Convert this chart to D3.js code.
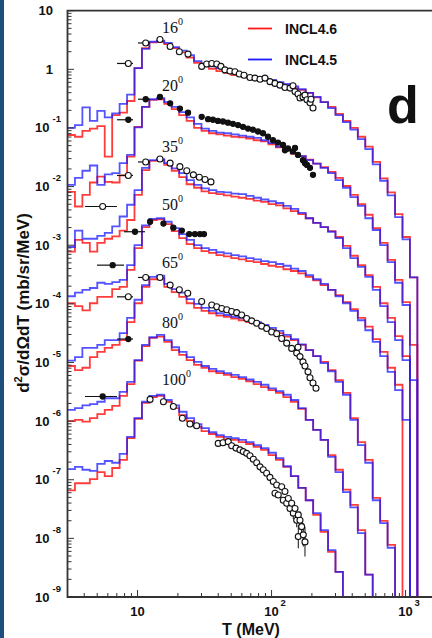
<!doctype html>
<html>
<head>
<script src="https://cdnjs.cloudflare.com/ajax/libs/d3/7.8.5/d3.min.js"></script>
<style>
  body { margin: 0; background: #ffffff; }
  text { font-family: "Liberation Sans", Arial, sans-serif; font-weight: bold; fill: #111; }
  .angle { font-family: "Liberation Serif", "Times New Roman", serif; font-weight: normal; font-size: 16px; }
  .frame { fill: none; stroke: #333; stroke-width: 1.8px; }
  .tick { stroke: #333; stroke-width: 1px; }
</style>
</head>
<body>
<div id="viz"><svg width="432" height="638"></svg></div>
<script>
// histogram binning: 18 log bins per decade starting at 3 MeV
var tMin = 3, binsPerDecade = 18;

var angles = ["16", "20", "35", "50", "65", "80", "100"];

// log10 of d2sigma/dOmega dT per bin (spectra already shifted by decades)
var incl46_16 = [-1.12,-1.15,-1.05,-1.01,-0.97,-1.49,-0.78,-0.74,-0.54,0.02,0.36,0.46,0.47,0.43,0.36,0.29,0.20,0.11,0.05,0.01,-0.03,-0.06,-0.10,-0.11,-0.14,-0.16,-0.19,-0.22,-0.24,-0.28,-0.32,-0.35,-0.40,-0.48,-0.56,-0.64,-0.76,-0.88,-1.00,-1.15,-1.32,-1.58,-1.86,-2.10,-2.47,-2.86,-3.55];
var incl45_16 = [-1.00,-0.95,-0.65,-0.88,-0.71,-0.82,-0.75,-0.59,-0.43,0.02,0.35,0.47,0.49,0.45,0.38,0.32,0.24,0.14,0.08,0.05,0.02,-0.02,-0.05,-0.08,-0.11,-0.13,-0.16,-0.18,-0.22,-0.25,-0.29,-0.34,-0.40,-0.47,-0.56,-0.66,-0.78,-0.90,-1.03,-1.19,-1.36,-1.62,-1.90,-2.15,-2.52,-2.90,-3.55];

var incl46_20 = [-2.09,-2.34,-2.14,-1.93,-1.83,-1.92,-1.93,-1.81,-1.49,-0.98,-0.64,-0.52,-0.51,-0.59,-0.68,-0.78,-0.88,-1.00,-1.05,-1.09,-1.11,-1.13,-1.15,-1.16,-1.18,-1.21,-1.23,-1.28,-1.33,-1.38,-1.44,-1.48,-1.54,-1.61,-1.67,-1.75,-1.85,-1.99,-2.14,-2.30,-2.48,-2.71,-2.96,-3.25,-3.59,-3.97,-4.70];
var incl45_20 = [-1.97,-1.85,-1.73,-1.64,-1.97,-1.79,-1.77,-1.60,-1.46,-0.99,-0.64,-0.51,-0.49,-0.56,-0.64,-0.73,-0.82,-0.93,-1.01,-1.05,-1.08,-1.09,-1.11,-1.13,-1.15,-1.17,-1.21,-1.26,-1.32,-1.38,-1.43,-1.48,-1.55,-1.61,-1.68,-1.77,-1.89,-2.02,-2.18,-2.33,-2.54,-2.74,-3.00,-3.29,-3.64,-4.02,-5.30];

var incl46_35 = [-3.11,-2.91,-2.96,-3.11,-2.96,-2.89,-2.85,-2.75,-2.57,-2.14,-1.72,-1.56,-1.55,-1.63,-1.73,-1.84,-1.96,-2.02,-2.08,-2.11,-2.13,-2.15,-2.17,-2.19,-2.21,-2.24,-2.26,-2.30,-2.32,-2.37,-2.42,-2.47,-2.54,-2.62,-2.69,-2.76,-2.86,-3.01,-3.18,-3.34,-3.51,-3.71,-3.99,-4.24,-4.55,-4.89];
var incl45_35 = [-3.03,-2.75,-2.89,-2.89,-2.84,-2.79,-2.68,-2.51,-2.31,-2.06,-1.68,-1.55,-1.53,-1.60,-1.69,-1.77,-1.89,-1.97,-2.03,-2.06,-2.09,-2.10,-2.12,-2.13,-2.16,-2.19,-2.22,-2.25,-2.28,-2.33,-2.38,-2.45,-2.54,-2.62,-2.69,-2.77,-2.88,-3.05,-3.22,-3.37,-3.54,-3.76,-4.04,-4.31,-4.62,-4.96];

var incl46_50 = [-3.99,-4.04,-4.11,-3.99,-3.88,-3.88,-3.75,-3.71,-3.42,-3.05,-2.69,-2.57,-2.56,-2.64,-2.76,-2.88,-2.98,-3.05,-3.10,-3.13,-3.17,-3.19,-3.22,-3.24,-3.27,-3.29,-3.32,-3.35,-3.37,-3.41,-3.44,-3.48,-3.54,-3.60,-3.68,-3.76,-3.85,-3.97,-4.09,-4.24,-4.39,-4.60,-4.82,-5.09,-5.38];
var incl45_50 = [-3.87,-3.81,-3.76,-3.73,-3.64,-3.66,-3.63,-3.59,-3.34,-3.00,-2.66,-2.55,-2.54,-2.60,-2.71,-2.81,-2.91,-3.00,-3.05,-3.08,-3.12,-3.14,-3.17,-3.19,-3.22,-3.24,-3.27,-3.29,-3.32,-3.35,-3.40,-3.44,-3.51,-3.58,-3.66,-3.76,-3.87,-3.99,-4.12,-4.28,-4.45,-4.65,-4.89,-5.16,-5.47,-5.98];

var incl46_65 = [-5.06,-5.13,-5.09,-4.91,-4.82,-4.75,-4.70,-4.62,-4.31,-3.99,-3.71,-3.58,-3.56,-3.71,-3.80,-3.88,-3.99,-4.07,-4.12,-4.16,-4.20,-4.22,-4.25,-4.28,-4.31,-4.34,-4.39,-4.45,-4.50,-4.56,-4.62,-4.70,-4.79,-4.89,-4.99,-5.13,-5.30,-5.52,-5.95,-6.36,-6.66,-7.31,-7.70,-8.11];
var incl45_65 = [-4.97,-4.91,-4.75,-4.75,-4.70,-4.62,-4.62,-4.50,-4.24,-3.93,-3.68,-3.54,-3.52,-3.66,-3.75,-3.81,-3.92,-4.00,-4.07,-4.12,-4.16,-4.19,-4.22,-4.24,-4.28,-4.31,-4.36,-4.41,-4.46,-4.53,-4.60,-4.69,-4.79,-4.89,-5.01,-5.15,-5.33,-5.55,-5.98,-6.41,-6.71,-7.35,-7.74,-8.16];

var incl46_80 = [-6.00,-5.98,-6.01,-5.95,-5.88,-5.81,-5.74,-5.57,-5.37,-4.97,-4.72,-4.58,-4.56,-4.65,-4.79,-4.87,-4.96,-5.04,-5.09,-5.15,-5.18,-5.21,-5.25,-5.28,-5.32,-5.37,-5.42,-5.47,-5.52,-5.59,-5.67,-5.79,-5.98,-6.15,-6.32,-6.58,-6.83,-7.17,-7.43,-7.86,-8.62];
var incl45_80 = [-5.81,-5.78,-5.73,-5.71,-5.67,-5.61,-5.61,-5.50,-5.33,-4.96,-4.70,-4.57,-4.53,-4.62,-4.74,-4.82,-4.91,-4.99,-5.06,-5.11,-5.15,-5.18,-5.21,-5.25,-5.29,-5.33,-5.38,-5.44,-5.49,-5.55,-5.64,-5.78,-5.98,-6.15,-6.32,-6.61,-6.87,-7.21,-7.47,-7.91,-8.62];

var incl46_100 = [-7.18,-7.06,-7.06,-6.99,-6.87,-6.94,-6.80,-6.66,-6.29,-5.96,-5.69,-5.59,-5.57,-5.67,-5.78,-5.90,-6.00,-6.10,-6.17,-6.22,-6.27,-6.31,-6.32,-6.36,-6.39,-6.44,-6.49,-6.58,-6.66,-6.78,-6.94,-7.14,-7.35,-7.60,-7.89,-8.23,-8.57];
var incl45_100 = [-6.82,-6.78,-6.83,-6.85,-6.73,-6.68,-6.71,-6.56,-6.27,-5.95,-5.67,-5.57,-5.55,-5.64,-5.73,-5.84,-5.95,-6.05,-6.12,-6.19,-6.24,-6.27,-6.29,-6.32,-6.36,-6.41,-6.46,-6.54,-6.63,-6.77,-6.94,-7.14,-7.35,-7.57,-7.86,-8.20,-8.57];

// measured points: [T (MeV), log10 value, optional log10 error]
var data16 = [[14.7,0.51],[17.5,0.39],[20.5,0.30],[23.8,0.26],[30.1,0.05],[32.8,0.09],[35.8,0.10],[39.0,0.09],[41.9,0.05],[44.9,-0.01],[48.9,-0.03],[53.3,-0.04],[57.4,-0.08],[62.3,-0.10],[69.0,-0.14],[75.2,-0.15],[82.0,-0.17],[89.3,-0.15],[97.3,-0.21],[106.1,-0.24],[115.6,-0.27],[125.9,-0.31],[137.3,-0.32],[144.5,-0.28],[149.6,-0.38],[157.5,-0.42],[163.0,-0.49],[171.6,-0.47],[177.6,-0.44],[183.8,-0.52],[193.6,-0.57],[197.0,-0.51],[203.8,-0.66]];
var data20 = [[14.7,-0.47],[17.5,-0.58],[20.7,-0.67],[23.8,-0.74],[30.1,-0.81],[33.6,-0.85],[36.5,-0.86],[39.8,-0.88],[43.4,-0.89],[47.3,-0.91],[51.5,-0.93],[56.2,-0.95],[61.2,-0.98],[66.7,-1.01],[72.7,-1.03],[79.2,-1.06],[86.3,-1.09],[94.0,-1.15],[102.5,-1.21],[111.7,-1.25],[121.7,-1.29],[125.9,-1.38],[132.6,-1.35],[144.5,-1.40],[149.6,-1.34],[157.5,-1.46],[171.6,-1.55],[177.6,-1.60],[183.8,-1.63],[193.6,-1.68],[203.8,-1.80]];
var data35 = [[14.7,-1.53],[17.5,-1.60],[20.7,-1.66],[23.3,-1.73],[26.1,-1.80],[28.9,-1.84],[31.9,-1.88],[35.3,-1.92]];
var data50 = [[12.4,-2.60],[15.6,-2.63],[18.5,-2.70],[21.4,-2.75],[24.3,-2.81],[26.8,-2.81],[29.2,-2.81],[31.3,-2.81]];
var data65 = [[14.7,-3.55],[17.5,-3.68],[20.5,-3.76],[23.7,-3.82],[30.1,-3.96],[35.8,-4.02],[39.0,-4.05],[42.5,-4.08],[46.3,-4.10],[50.4,-4.13],[54.9,-4.15],[59.8,-4.19],[65.2,-4.25],[71.1,-4.29],[77.5,-4.33],[84.4,-4.38],[91.9,-4.42],[100.2,-4.48],[109.2,-4.51],[119.0,-4.59],[129.7,-4.67],[141.3,-4.76],[154.0,-4.84],[157.5,-4.74],[163.0,-4.90],[171.6,-4.99],[177.6,-5.06],[187.1,-5.16],[193.6,-5.26],[203.8,-5.35],[214.6,-5.44]];
var data100 = [[12.4,-5.63],[15.6,-5.67],[18.5,-5.75],[21.6,-5.95],[24.6,-6.05],[27.6,-6.08],[40.0,-6.38],[43.4,-6.37],[47.5,-6.35],[50.4,-6.42],[54.3,-6.46],[58.1,-6.49],[61.5,-6.52],[65.2,-6.55],[69.0,-6.59],[73.1,-6.65],[77.5,-6.71],[82.0,-6.78],[86.7,-6.83],[91.9,-6.89],[97.3,-6.96],[103.0,-7.03],[106.1,-7.23],[109.2,-7.09],[112.2,-7.26],[119.0,-7.12],[122.3,-7.35],[125.9,-7.20],[129.7,-7.40],[133.3,-7.32],[137.3,-7.49],[141.3,-7.40],[145.3,-7.57,0.1],[149.6,-7.49],[154.0,-7.69,0.12],[158.3,-7.60],[158.3,-7.97,0.2],[163.0,-7.69,0.15],[167.8,-7.80,0.15],[172.5,-7.94,0.2],[177.6,-8.06,0.25]];

// low energy points with energy bin width: [angle, T, log10 value, Tlow, Thigh]
var lowPoints = [["16",8.53,0.10,7.02,9.25],["16",11.5,0.45,10.07,12.38],
  ["20",8.53,-0.86,7.02,9.25],["20",11.5,-0.51,10.07,12.38],
  ["35",5.49,-2.34,4.05,7.02],["35",8.53,-1.81,7.02,9.25],["35",11.5,-1.58,10.07,12.38],
  ["50",6.52,-3.34,4.98,7.92],["50",9.57,-2.77,7.92,11.36],
  ["65",8.53,-3.88,7.02,9.25],["65",11.5,-3.55,10.07,12.38],
  ["80",8.53,-4.60,7.02,9.25],["80",5.49,-5.58,4.05,7.02]];

var legendNames = ["INCL4.6", "INCL4.5"];
var filledAngles = ["20", "50", "80"];

var incl46 = [incl46_16, incl46_20, incl46_35, incl46_50, incl46_65, incl46_80, incl46_100];
var incl45 = [incl45_16, incl45_20, incl45_35, incl45_50, incl45_65, incl45_80, incl45_100];
var measured = {"16": data16, "20": data20, "35": data35, "50": data50, "65": data65, "100": data100};

var svg = d3.select("svg");

var x = d3.scaleLog().domain([3, 1600]).range([67.5, 432.9]);
var y = d3.scaleLog().domain([1e-9, 10]).range([597, 10.7]);

var edges = d3.range(48).map(function(k) { return tMin * Math.pow(10, k / binsPerDecade); });

svg.append("clipPath").attr("id", "plot")
  .append("rect").attr("x", 67.5).attr("y", 10.7).attr("width", 366).attr("height", 586.3);

function stepPath(lg) {
  var p = "M" + x(edges[0]) + "," + y(Math.pow(10, lg[0]));
  for (var i = 0; i < lg.length; i++) {
    if (i > 0) p += "V" + y(Math.pow(10, lg[i]));
    p += "H" + x(edges[i + 1]);
  }
  return p + "V" + y(1e-9);
}

var hist = svg.append("g").attr("clip-path", "url(#plot)");
incl46.forEach(function(h) {
  hist.append("path").attr("d", stepPath(h))
    .attr("fill", "none").attr("stroke", "#ff1a1a").attr("stroke-width", 1.8).attr("opacity", 0.85);
});
incl45.forEach(function(h) {
  hist.append("path").attr("d", stepPath(h))
    .attr("fill", "none").attr("stroke", "#1a1aff").attr("stroke-width", 1.8).attr("opacity", 0.75);
});

// measured data
var pts = svg.append("g");
angles.forEach(function(a) {
  var d = measured[a];
  if (!d) return;
  var filled = filledAngles.indexOf(a) >= 0;
  d.forEach(function(p) {
    if (p[2]) {
      pts.append("line").attr("x1", x(p[0])).attr("x2", x(p[0]))
        .attr("y1", y(Math.pow(10, p[1] - p[2]))).attr("y2", y(Math.pow(10, p[1] + p[2])))
        .attr("stroke", "#111").attr("stroke-width", 1);
    }
  });
  pts.selectAll("circle.a" + a).data(d).enter().append("circle")
    .attr("cx", function(p) { return x(p[0]); })
    .attr("cy", function(p) { return y(Math.pow(10, p[1])); })
    .attr("r", filled ? 2.6 : 3)
    .attr("fill", filled ? "#111" : "#fff")
    .attr("stroke", "#111").attr("stroke-width", 1.1);
});

lowPoints.forEach(function(p) {
  var yy = y(Math.pow(10, p[2]));
  var filled = filledAngles.indexOf(p[0]) >= 0;
  pts.append("line").attr("x1", x(p[3])).attr("x2", x(p[4])).attr("y1", yy).attr("y2", yy)
    .attr("stroke", "#111").attr("stroke-width", 1.2);
  pts.append("circle").attr("cx", x(p[1])).attr("cy", yy)
    .attr("r", filled ? 2.6 : 3)
    .attr("fill", filled ? "#111" : "#fff")
    .attr("stroke", "#111").attr("stroke-width", 1.1);
});

// frame
svg.append("path").attr("class", "frame")
  .attr("d", "M434,10.7H67.5V597H434");

// y ticks
var yMinor = [];
d3.range(-9, 1).forEach(function(p) {
  d3.range(2, 10).forEach(function(m) { yMinor.push(m * Math.pow(10, p)); });
});
svg.selectAll("line.ym").data(yMinor).enter().append("line").attr("class", "tick")
  .attr("x1", 67.5).attr("x2", 71.5)
  .attr("y1", function(d) { return y(d); }).attr("y2", function(d) { return y(d); });
svg.selectAll("line.yM").data(d3.range(-9, 2)).enter().append("line").attr("class", "tick")
  .attr("x1", 67.5).attr("x2", 74)
  .attr("y1", function(p) { return y(Math.pow(10, p)); }).attr("y2", function(p) { return y(Math.pow(10, p)); });

d3.range(-9, 2).forEach(function(p) {
  var yy = y(Math.pow(10, p));
  if (p >= 0) {
    svg.append("text").attr("x", 53).attr("y", yy + 4.5).attr("text-anchor", "end")
      .style("font-size", "13px").text(p === 1 ? "10" : "1");
  } else {
    svg.append("text").attr("x", 49.5).attr("y", yy + 4.5).attr("text-anchor", "end")
      .style("font-size", "13px").text("10");
    svg.append("text").attr("x", 52.5).attr("y", yy - 5.5)
      .style("font-size", "9.5px").text(p);
  }
});

// x ticks
var xMinor = [4, 5, 6, 7, 8, 9, 20, 30, 40, 50, 60, 70, 80, 90, 200, 300, 400, 500, 600, 700, 800, 900];
svg.selectAll("line.xm").data(xMinor).enter().append("line").attr("class", "tick")
  .attr("x1", function(d) { return x(d); }).attr("x2", function(d) { return x(d); })
  .attr("y1", 597).attr("y2", 593);
svg.selectAll("line.xM").data([10, 100, 1000]).enter().append("line").attr("class", "tick")
  .attr("x1", function(d) { return x(d); }).attr("x2", function(d) { return x(d); })
  .attr("y1", 597).attr("y2", 590);

[1, 2, 3].forEach(function(p) {
  var xx = x(Math.pow(10, p));
  svg.append("text").attr("x", xx).attr("y", 616).attr("text-anchor", "middle")
    .style("font-size", "13px").text("10");
  if (p > 1) {
    svg.append("text").attr("x", xx + 9).attr("y", 606).style("font-size", "9.5px").text(p);
  }
});

// axis titles
svg.append("text").attr("x", 251).attr("y", 635).attr("text-anchor", "middle")
  .style("font-size", "16px").text("T (MeV)");

var yt = svg.append("text").attr("transform", "translate(29,303) rotate(-90)")
  .attr("text-anchor", "middle").style("font-size", "17px");
yt.append("tspan").text("d");
yt.append("tspan").attr("dy", -7).style("font-size", "11px").text("2");
yt.append("tspan").attr("dy", 7).text("\u03c3/d\u03a9dT (mb/sr/MeV)");

// angle labels
var labelY = [33, 91, 152, 210, 268, 328, 385];
angles.forEach(function(a, i) {
  var t = svg.append("text").attr("class", "angle").attr("x", 162).attr("y", labelY[i]);
  t.append("tspan").text(a);
  t.append("tspan").attr("dy", -8).style("font-size", "10px").text("0");
});

// legend
var legendColors = ["#ff1a1a", "#1a1aff"];
legendNames.forEach(function(n, i) {
  var ly = 28.5 + i * 31;
  svg.append("line").attr("x1", 248).attr("x2", 272).attr("y1", ly).attr("y2", ly)
    .attr("stroke", legendColors[i]).attr("stroke-width", 1.8);
  svg.append("text").attr("x", 285).attr("y", ly + 5).style("font-size", "14px").text(n);
});

svg.append("text").attr("x", 387).attr("y", 123).style("font-size", "52px").text("d");

// left border of the figure panel
svg.append("rect").attr("x", 0).attr("y", 0).attr("width", 4).attr("height", 638).attr("fill", "#1d4e7e");
</script>
</body>
</html>
